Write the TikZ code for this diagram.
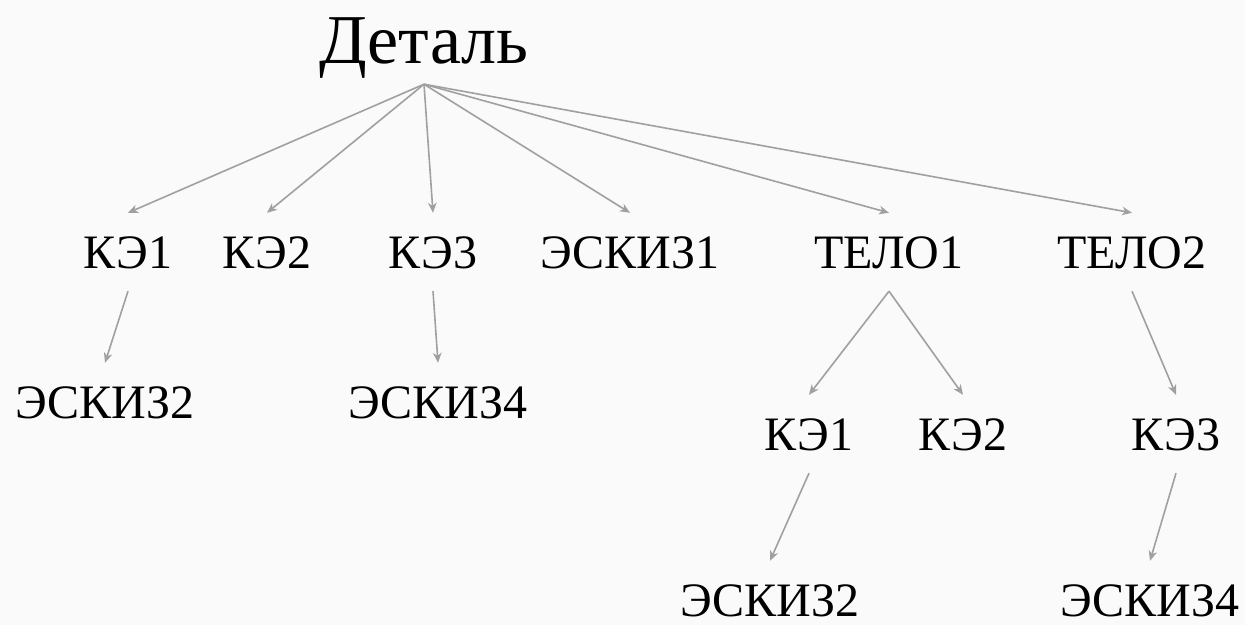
\documentclass[tikz,border=0pt]{standalone}
\usepackage{fontspec}
\setmainfont{Liberation Serif}
\usetikzlibrary{arrows.meta}

\definecolor{arrowgray}{RGB}{160,160,160}
\definecolor{bggray}{RGB}{250,250,250}

\tikzset{
  part/.style={anchor=base, inner xsep=0pt, inner ysep=23pt,
    text height=32pt, text depth=0pt, font=\fontsize{48}{48}\selectfont},
  link/.style={->, draw=arrowgray, line width=1.6pt}
}

\begin{document}
\begin{tikzpicture}[x=1pt, y=-1pt, >={Stealth[length=10pt,width=8.5pt,inset=3pt]}]
\useasboundingbox[fill=bggray] (0,0) rectangle (1245,625);

\node[anchor=base, inner ysep=21pt, text depth=0pt,
  font=\fontsize{70}{70}\selectfont] (detal) at (424,63) {Деталь};

\node[part] (k1) at (128,268) {КЭ1};
\node[part] (k2) at (267,268) {КЭ2};
\node[part] (k3) at (433,268) {КЭ3};
\node[part] (esk1) at (630,268) {ЭСКИЗ1};
\node[part] (telo1) at (889,268) {ТЕЛО1};
\node[part] (telo2) at (1132,268) {ТЕЛО2};

\node[part] (esk2) at (105,418) {ЭСКИЗ2};
\node[part] (esk4) at (438,418) {ЭСКИЗ4};

\node[part] (tk1) at (809,450) {КЭ1};
\node[part] (tk2) at (963,450) {КЭ2};
\node[part] (tk3) at (1176,450) {КЭ3};

\node[part] (tesk2) at (770,616) {ЭСКИЗ2};
\node[part] (tesk4) at (1150,616) {ЭСКИЗ4};

\foreach \t in {k1,k2,k3,esk1,telo1,telo2}
  \draw[link] (detal.south) -- (\t.north);

\draw[link] (k1.south) -- (esk2.north);
\draw[link] (k3.south) -- (esk4.north);
\draw[link] (telo1.south) -- (tk1.north);
\draw[link] (telo1.south) -- (tk2.north);
\draw[link] (telo2.south) -- (tk3.north);
\draw[link] (tk1.south) -- (tesk2.north);
\draw[link] (tk3.south) -- (tesk4.north);
\end{tikzpicture}
\end{document}
